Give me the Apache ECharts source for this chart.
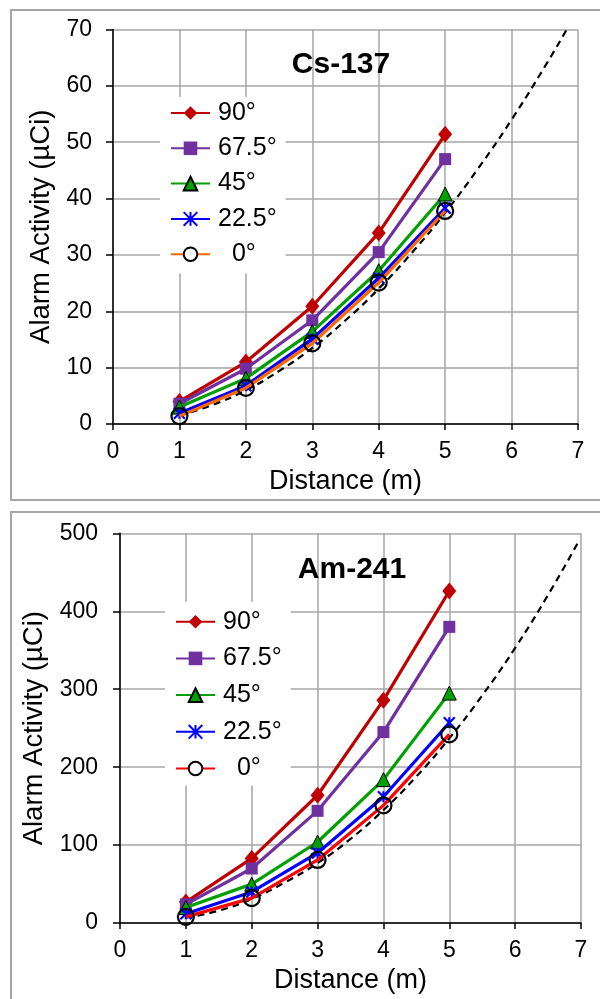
<!DOCTYPE html>
<html><head><meta charset="utf-8">
<script src="https://cdn.jsdelivr.net/npm/echarts@6/dist/echarts.min.js"></script>
<style>
html,body{margin:0;padding:0;background:#fff;}
#c1{position:absolute;left:0;top:0;width:600px;height:505px;}
#c2{position:absolute;left:0;top:505px;width:600px;height:494px;}
</style>
</head><body>
<div id="c1"></div><div id="c2"></div>
<script>
// ---- data ----
const distances = [1, 2, 3, 4, 5];
const angleLabels = ['90°', '67.5°', '45°', '22.5°', '  0°'];
const xAxisTitle = 'Distance (m)';
const yAxisTitle = 'Alarm Activity (µCi)';

const csTitle = 'Cs-137';
const cs90 = [4.0, 11.0, 20.9, 33.9, 51.4];
const cs67 = [3.6, 9.8, 18.4, 30.5, 47.0];
const cs45 = [3.0, 8.1, 16.4, 27.2, 40.8];
const cs22 = [1.9, 6.8, 15.1, 25.9, 38.3];
const cs0  = [1.4, 6.4, 14.3, 25.1, 37.8];
const csFitX = [1, 1.5, 2, 2.5, 3, 3.5, 4, 4.5, 5, 5.5, 6, 6.5, 6.83];
const csFitY = [1.5, 3.4, 6.0, 9.4, 13.5, 18.4, 24.0, 30.4, 37.5, 45.4, 54.0, 63.4, 70.0];
const csYMax = 70, csYStep = 10;

const amTitle = 'Am-241';
const am90 = [27, 83, 164, 286, 426];
const am67 = [24, 70, 144, 245, 380];
const am45 = [20, 50, 104, 184, 295];
const am22 = [12, 40, 90, 162, 257];
const am0  = [8, 32, 81, 151, 242];
const amFitX = [1, 1.5, 2, 2.5, 3, 3.5, 4, 4.5, 5, 5.5, 6, 6.5, 6.96];
const amFitY = [7, 16, 31, 52, 77, 108, 145, 188, 237, 292, 353, 421, 489];
const amYMax = 500, amYStep = 100;

const xMax = 7, xStep = 1;

// ---- styling helpers ----
const FONT = "'Liberation Sans', Arial, sans-serif";
const starPath = 'path://M0,0L10,10M10,0L0,10M5,0L5,10';

function pairs(xs, ys) { return xs.map((x, i) => [x, ys[i]]); }

function makeOption(cfg) {
  const seriesStyles = [
    { color: '#C00000', symbol: 'diamond', size: [14, 17], item: { color: '#C00000' } },
    { color: '#7030A0', symbol: 'rect', size: 12, item: { color: '#7030A0' } },
    { color: '#00A000', symbol: 'triangle', size: 14, item: { color: '#00A000', borderColor: '#000', borderWidth: 1 } },
    { color: '#0000FF', symbol: starPath, size: 11, item: { color: '#0000FF', borderColor: '#0000FF', borderWidth: 2.2 } },
    { color: cfg.zeroColor, symbol: 'circle', size: 16, item: { color: 'rgba(255,255,255,0)', borderColor: '#000', borderWidth: 2.2 } }
  ];
  const series = [{
    name: 'fit', type: 'line', smooth: true, showSymbol: false, symbol: 'none',
    data: pairs(cfg.fitX, cfg.fitY),
    lineStyle: { color: '#000', width: 2.2, type: [7, 5] }, z: 1, silent: true
  }];
  cfg.values.forEach((vals, i) => {
    const st = seriesStyles[i];
    series.push({
      name: angleLabels[i], type: 'line',
      data: pairs(distances, vals),
      symbol: st.symbol, symbolSize: st.size, showSymbol: true,
      lineStyle: { color: st.color, width: 3.2 },
      itemStyle: st.item,
      z: 2 + i
    });
  });
  const legendData = angleLabels.map((n, i) => i === 4 ? { name: n, itemStyle: { color: '#fff' } } : { name: n });
  return {
    animation: false,
    backgroundColor: '#fff',
    textStyle: { fontFamily: FONT },
    grid: { left: cfg.grid.left, top: cfg.grid.top, width: cfg.grid.width, height: cfg.grid.height, containLabel: false },
    legend: {
      data: legendData, orient: 'vertical', left: cfg.legend.left, top: cfg.legend.top,
      padding: cfg.legend.padding, itemGap: cfg.legend.gap,
      itemWidth: 39, itemHeight: 17, backgroundColor: '#fff',
      textStyle: { fontSize: 25, color: '#000', fontFamily: FONT, lineHeight: 26, padding: [0, 0, 0, 3] },
      selectedMode: false
    },
    xAxis: {
      type: 'value', min: 0, max: xMax, interval: xStep,
      axisLine: { show: true, onZero: false, lineStyle: { color: '#000', width: 1.5 } },
      axisTick: { show: true, length: 6, lineStyle: { color: '#000', width: 1.5 } },
      axisLabel: { fontSize: 23, color: '#000', margin: 16, fontFamily: FONT },
      splitLine: { show: true, lineStyle: { color: '#a6a6a6', width: 1.5 } },
      name: xAxisTitle, nameLocation: 'middle', nameGap: 41,
      nameTextStyle: { fontSize: 27, color: '#000', fontFamily: FONT }
    },
    yAxis: {
      type: 'value', min: 0, max: cfg.yMax, interval: cfg.yStep,
      axisLine: { show: true, onZero: false, lineStyle: { color: '#000', width: 1.5 } },
      axisTick: { show: true, length: 7, lineStyle: { color: '#000', width: 1.5 } },
      axisLabel: { fontSize: 23, color: '#000', margin: cfg.yLabelMargin, fontFamily: FONT },
      splitLine: { show: true, lineStyle: { color: '#a6a6a6', width: 1.5 } },
      name: yAxisTitle, nameLocation: 'middle', nameGap: cfg.yNameGap,
      nameTextStyle: { fontSize: 27.5, color: '#000', fontFamily: FONT }
    },
    graphic: [
      { type: 'rect', shape: { x: 11, y: cfg.boxTop, width: 620, height: 490 }, style: { fill: 'none', stroke: '#a6a6a6', lineWidth: 2 }, z: -1, silent: true },
      { type: 'text', x: cfg.title.x, y: cfg.title.y, style: { text: cfg.title.text, font: 'bold 30px ' + FONT, fill: '#000', textAlign: 'center', textVerticalAlign: 'middle' }, z: 10 }
    ],
    series: series
  };
}

const c1 = echarts.init(document.getElementById('c1'), null, { renderer: 'canvas' });
c1.setOption(makeOption({
  values: [cs90, cs67, cs45, cs22, cs0], fitX: csFitX, fitY: csFitY,
  yMax: csYMax, yStep: csYStep, zeroColor: '#FF6600',
  grid: { left: 113, top: 29.5, width: 465, height: 394.5 },
  legend: { left: 160, top: 97, padding: [3, 9, 6, 10], gap: 9.3 },
  title: { text: csTitle, x: 341, y: 65 },
  boxTop: 10, yNameGap: 55, yLabelMargin: 21
}));

const c2 = echarts.init(document.getElementById('c2'), null, { renderer: 'canvas' });
c2.setOption(makeOption({
  values: [am90, am67, am45, am22, am0], fitX: amFitX, fitY: amFitY,
  yMax: amYMax, yStep: amYStep, zeroColor: '#FF0000',
  grid: { left: 120, top: 28.3, width: 461, height: 391.7 },
  legend: { left: 165, top: 96.7, padding: [7, 9, 4, 10], gap: 10.7 },
  title: { text: amTitle, x: 352, y: 64.7 },
  boxTop: 7, yNameGap: 62, yLabelMargin: 22
}));
</script>
</body></html>
